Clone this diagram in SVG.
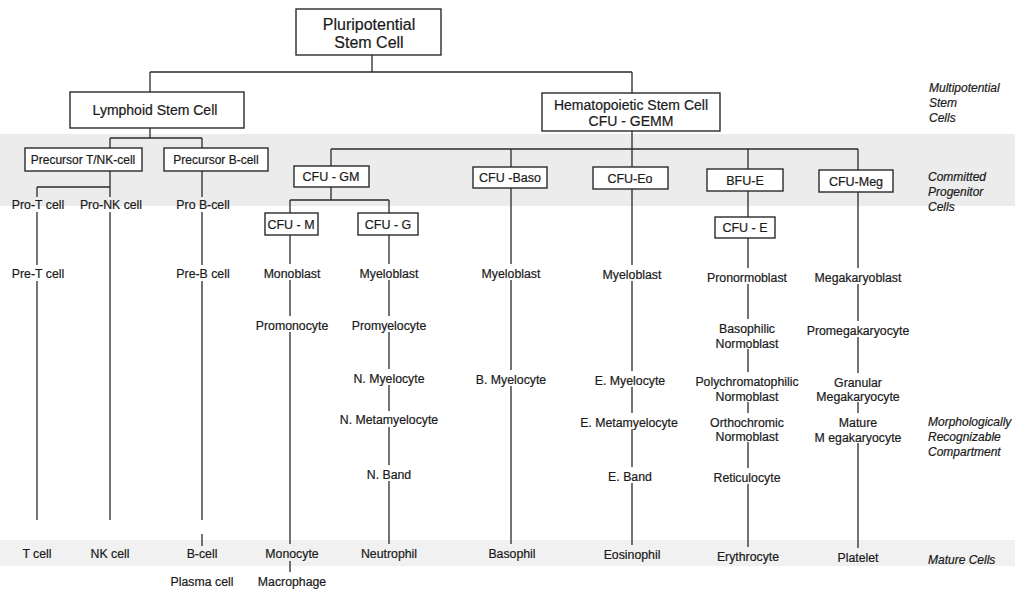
<svg xmlns="http://www.w3.org/2000/svg" width="1015" height="592" viewBox="0 0 1015 592">
<style>
.bg{fill:#ffffff}
.band{fill:#ececec}
.band2{fill:#f1f1f1}
.box{fill:#ffffff;stroke:#2a2a2a;stroke-width:1.4}
.ln{fill:none;stroke:#2a2a2a;stroke-width:1.3}
text{font-family:"Liberation Sans",Arial,sans-serif;fill:#1a1a1a;stroke:#1a1a1a;stroke-width:0.2;text-anchor:middle}
.big{font-size:16px}
.mid{font-size:14px}
.bx{font-size:12.5px}
.pre{font-size:12px}
.c{font-size:12.3px}
.side{font-size:12px;font-style:italic;text-anchor:start}
</style>
<rect class="bg" x="0" y="0" width="1015" height="592"/>
<rect class="band" x="0" y="134" width="1015" height="72"/>
<rect class="band2" x="0" y="540" width="1015" height="26"/>
<g id="connectors">
<path class="ln" d="M372 55V72M150 72H632M150 72V92M632 72V93"/>
<path class="ln" d="M150 128V138M110 138H202M110 138V148M202 138V148"/>
<path class="ln" d="M37 187H110M37 187V197M37 212V265M37 281V520M110 171V197M110 212V520M202 171V197M202 212V265M202 281V520M202 534V546"/>
<path class="ln" d="M632 131V149M331 149H858M331 149V166M511 149V167M632 149V167M748 149V169M858 149V170"/>
<path class="ln" d="M331 187V200M290 200H389M290 200V213M389 200V213"/>
<path class="ln" d="M290 235V264M290 280V316M290 332V544M290 561V572"/>
<path class="ln" d="M389 235V264M389 280V316M389 332V369M389 385V411M389 427V465M389 481V544"/>
<path class="ln" d="M511 188V264M511 280V370M511 386V544"/>
<path class="ln" d="M632 189V265M632 281V371M632 387V413M632 429V467M632 483V545"/>
<path class="ln" d="M748 191V217M748 238V268M748 284V319M748 349V372M748 402V413M748 442V468M748 484V547"/>
<path class="ln" d="M858 192V268M858 284V321M858 337V373M858 402V413M858 443V548"/>
</g>
<g id="pluripotential"><rect class="box" x="296" y="9" width="145" height="46"/><text class="big" x="369" y="30">Pluripotential</text><text class="big" x="369" y="48">Stem Cell</text></g>
<g id="lymphoid"><rect class="box" x="70" y="92" width="174" height="36"/><text class="mid" x="155" y="115">Lymphoid Stem Cell</text></g>
<g id="hematopoietic"><rect class="box" x="542" y="93" width="178" height="38"/><text class="mid" x="631" y="110">Hematopoietic Stem Cell</text><text class="mid" x="631" y="126">CFU - GEMM</text></g>
<g id="pre-tnk"><rect class="box" x="25" y="148" width="117" height="23"/><text class="pre" x="83" y="164">Precursor T/NK-cell</text></g>
<g id="pre-b"><rect class="box" x="164" y="148" width="104" height="23"/><text class="pre" x="216" y="164">Precursor B-cell</text></g>
<g id="cfu-gm"><rect class="box" x="294" y="166" width="75" height="21"/><text class="bx" x="331" y="181">CFU - GM</text></g>
<g id="cfu-baso"><rect class="box" x="473" y="167" width="74" height="21"/><text class="bx" x="510" y="182">CFU -Baso</text></g>
<g id="cfu-eo"><rect class="box" x="593" y="167" width="75" height="22"/><text class="bx" x="630" y="183">CFU-Eo</text></g>
<g id="bfu-e"><rect class="box" x="707" y="169" width="76" height="22"/><text class="bx" x="745" y="185">BFU-E</text></g>
<g id="cfu-meg"><rect class="box" x="819" y="170" width="74" height="22"/><text class="bx" x="856" y="186">CFU-Meg</text></g>
<g id="cfu-m"><rect class="box" x="265" y="213" width="53" height="22"/><text class="bx" x="291" y="229">CFU - M</text></g>
<g id="cfu-g"><rect class="box" x="358" y="213" width="60" height="22"/><text class="bx" x="388" y="229">CFU - G</text></g>
<g id="cfu-e"><rect class="box" x="715" y="217" width="60" height="21"/><text class="bx" x="745" y="232">CFU - E</text></g>
<g id="lymphoid-cells">
<text class="c" x="38" y="209">Pro-T cell</text>
<text class="c" x="111" y="209">Pro-NK cell</text>
<text class="c" x="203" y="209">Pro B-cell</text>
<text class="c" x="38" y="278">Pre-T cell</text>
<text class="c" x="203" y="278">Pre-B cell</text>
<text class="c" x="37" y="558">T cell</text>
<text class="c" x="110" y="558">NK cell</text>
<text class="c" x="202" y="558">B-cell</text>
<text class="c" x="202" y="586">Plasma cell</text>
</g>
<g id="mono-cells">
<text class="c" x="292" y="278">Monoblast</text>
<text class="c" x="292" y="330">Promonocyte</text>
<text class="c" x="292" y="558">Monocyte</text>
<text class="c" x="292" y="586">Macrophage</text>
</g>
<g id="neut-cells">
<text class="c" x="389" y="278">Myeloblast</text>
<text class="c" x="389" y="330">Promyelocyte</text>
<text class="c" x="389" y="383">N. Myelocyte</text>
<text class="c" x="389" y="424">N. Metamyelocyte</text>
<text class="c" x="389" y="479">N. Band</text>
<text class="c" x="389" y="558">Neutrophil</text>
</g>
<g id="baso-cells">
<text class="c" x="511" y="278">Myeloblast</text>
<text class="c" x="511" y="384">B. Myelocyte</text>
<text class="c" x="512" y="558">Basophil</text>
</g>
<g id="eo-cells">
<text class="c" x="632" y="279">Myeloblast</text>
<text class="c" x="630" y="385">E. Myelocyte</text>
<text class="c" x="629" y="427">E. Metamyelocyte</text>
<text class="c" x="630" y="481">E. Band</text>
<text class="c" x="632" y="559">Eosinophil</text>
</g>
<g id="ery-cells">
<text class="c" x="747" y="282">Pronormoblast</text>
<text class="c" x="747" y="333">Basophilic</text>
<text class="c" x="747" y="348">Normoblast</text>
<text class="c" x="747" y="386">Polychromatophilic</text>
<text class="c" x="747" y="401">Normoblast</text>
<text class="c" x="747" y="427">Orthochromic</text>
<text class="c" x="747" y="441">Normoblast</text>
<text class="c" x="747" y="482">Reticulocyte</text>
<text class="c" x="748" y="561">Erythrocyte</text>
</g>
<g id="meg-cells">
<text class="c" x="858" y="282">Megakaryoblast</text>
<text class="c" x="858" y="335">Promegakaryocyte</text>
<text class="c" x="858" y="387">Granular</text>
<text class="c" x="858" y="401">Megakaryocyte</text>
<text class="c" x="858" y="427">Mature</text>
<text class="c" x="858" y="442">M egakaryocyte</text>
<text class="c" x="858" y="562">Platelet</text>
</g>
<g id="side-labels">
<text class="side" x="929" y="92">Multipotential</text>
<text class="side" x="929" y="107">Stem</text>
<text class="side" x="929" y="122">Cells</text>
<text class="side" x="928" y="181">Committed</text>
<text class="side" x="928" y="196">Progenitor</text>
<text class="side" x="928" y="211">Cells</text>
<text class="side" x="928" y="426">Morphologically</text>
<text class="side" x="928" y="441">Recognizable</text>
<text class="side" x="928" y="456">Compartment</text>
<text class="side" x="928" y="564">Mature Cells</text>
</g>
</svg>
